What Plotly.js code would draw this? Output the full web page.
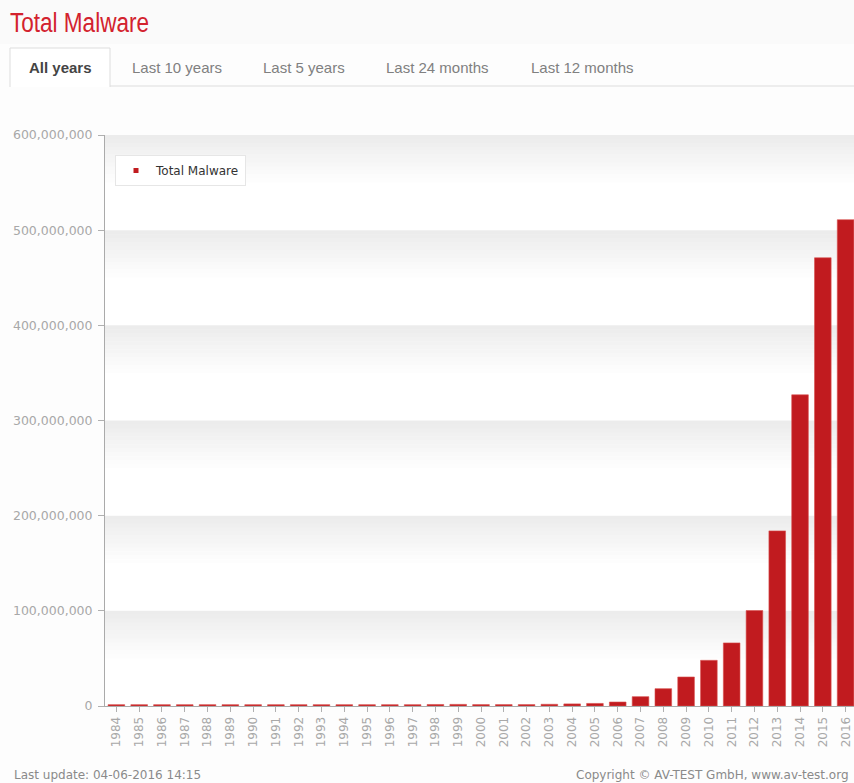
<!DOCTYPE html>
<html>
<head>
<meta charset="utf-8">
<script src="https://cdn.plot.ly/plotly-3.0.1.min.js"></script>
<style>
  html, body { margin: 0; padding: 0; overflow: hidden; background: #fdfdfd; }
  #chart { width: 860px; height: 783px; }
</style>
</head>
<body>
<div id="chart"></div>
<script>
// ---- data ----
const years = ["1984","1985","1986","1987","1988","1989","1990","1991","1992","1993","1994","1995","1996","1997","1998","1999","2000","2001","2002","2003","2004","2005","2006","2007","2008","2009","2010","2011","2012","2013","2014","2015","2016"];
const totalMalware = [1.4e6,1.4e6,1.4e6,1.4e6,1.4e6,1.4e6,1.4e6,1.4e6,1.4e6,1.4e6,1.4e6,1.4e6,1.4e6,1.4e6,1.6e6,1.7e6,1.5e6,1.5e6,1.5e6,1.8e6,2.2e6,2.7e6,4.2e6,9.8e6,18.2e6,30.5e6,48e6,66.3e6,100.3e6,184e6,327e6,471e6,511e6];
const yTickVals = [0,100000000,200000000,300000000,400000000,500000000,600000000];
const seriesName = "Total Malware";
const chartTitle = "Total Malware";
const tabLabels = ["All years","Last 10 years","Last 5 years","Last 24 months","Last 12 months"];
const footerLeft = "Last update: 04-06-2016 14:15";
const footerRight = "Copyright \u00A9 AV-TEST GmbH, www.av-test.org";

// ---- layout geometry helpers ----
const W = 860, H = 783, ML = 105, MR = 3, MT = 135, MB = 77;
const PW = W - ML - MR, PH = H - MT - MB;
const fx = px => (px - ML) / PW;
const fy = py => 1 - (py - MT) / PH;

const red = "#c11b1f";
const font = "DejaVu Sans, Verdana, sans-serif";

// gradient bands below each gridline
const shapes = [];
const steps = 12, bandDepth = 50e6;
for (let k = 1; k < yTickVals.length; k++) {
  const top = yTickVals[k];
  for (let i = 0; i < steps; i++) {
    shapes.push({
      type: "rect", layer: "below", xref: "paper", yref: "y",
      x0: 0, x1: 1,
      y0: top - (i + 1) * bandDepth / steps, y1: top - i * bandDepth / steps,
      fillcolor: "rgba(0,0,0," + (0.075 * (1 - i / steps)).toFixed(4) + ")",
      line: { width: 0 }
    });
  }
}
// header strip
shapes.push({ type: "rect", xref: "paper", yref: "paper", layer: "below",
  x0: fx(0), x1: fx(W), y0: fy(44), y1: fy(0), fillcolor: "#fafafa", line: { width: 0 } });
// tab baseline
shapes.push({ type: "line", xref: "paper", yref: "paper",
  x0: fx(110), x1: fx(854), y0: fy(86), y1: fy(86), line: { color: "#dddddd", width: 1 } });
// active tab box (open at bottom)
shapes.push({ type: "rect", xref: "paper", yref: "paper", layer: "below",
  x0: fx(10), x1: fx(110), y0: fy(87), y1: fy(48), fillcolor: "#ffffff", line: { width: 0 } });
shapes.push({ type: "path", xref: "paper", yref: "paper",
  path: "M" + fx(10) + "," + fy(87) + " L" + fx(10) + "," + fy(48) + " L" + fx(110) + "," + fy(48) + " L" + fx(110) + "," + fy(87),
  line: { color: "#dddddd", width: 1 } });

const tabCenters = [60, 177, 304, 437, 582];
const annotations = [
  { text: chartTitle, xref: "paper", yref: "paper", x: fx(9), y: fy(23), xanchor: "left", yanchor: "middle",
    showarrow: false, font: { family: "Liberation Sans Narrow, Arial Narrow, Liberation Sans, sans-serif", size: 27, color: "#d3222e" } },
  { text: footerLeft, xref: "paper", yref: "paper", x: fx(12), y: fy(775), xanchor: "left", yanchor: "middle",
    showarrow: false, font: { family: font, size: 12, color: "#8a8a8a" } },
  { text: footerRight, xref: "paper", yref: "paper", x: fx(851), y: fy(775), xanchor: "right", yanchor: "middle",
    showarrow: false, font: { family: font, size: 12, color: "#8a8a8a" } }
];
tabLabels.forEach((t, i) => {
  annotations.push({
    text: i === 0 ? "<b>" + t + "</b>" : t,
    xref: "paper", yref: "paper", x: fx(tabCenters[i]), y: fy(68), xanchor: "center", yanchor: "middle",
    showarrow: false,
    font: { family: "Liberation Sans, Arial, sans-serif", size: 15, color: i === 0 ? "#444444" : "#808080" }
  });
});

const traces = [
  {
    type: "bar", x: years, y: totalMalware, name: seriesName, showlegend: false,
    marker: { color: red, line: { color: "#d9504f", width: 0.6 } },
    hoverinfo: "x+y"
  },
  {
    type: "scatter", mode: "markers", x: [null], y: [null], name: seriesName,
    marker: { symbol: "square", size: 5, color: red }, showlegend: true
  }
];

const layout = {
  width: W, height: H,
  margin: { l: ML, r: MR, t: MT, b: MB, pad: 0 },
  paper_bgcolor: "#fdfdfd",
  plot_bgcolor: "#ffffff",
  bargap: 0.27,
  showlegend: true,
  legend: {
    x: fx(115), y: fy(155), xanchor: "left", yanchor: "top",
    bgcolor: "#ffffff", bordercolor: "#e6e6e6", borderwidth: 1,
    font: { family: font, size: 12, color: "#333333" },
    itemwidth: 30
  },
  xaxis: {
    type: "category",
    tickangle: -90,
    tickfont: { family: font, size: 12, color: "#a8a8a8" },
    ticks: "outside", ticklen: 5, tickcolor: "#b0b0b0",
    showline: true, linecolor: "#aaaaaa", linewidth: 1,
    showgrid: false, zeroline: false, fixedrange: true
  },
  yaxis: {
    range: [0, 600000000],
    tickvals: yTickVals,
    tickformat: ",d",
    tickfont: { family: font, size: 12.5, color: "#a8a8a8" },
    ticks: "outside", ticklen: 6, tickcolor: "#b0b0b0",
    ticklabelstandoff: 3,
    showline: true, linecolor: "#aaaaaa", linewidth: 1,
    showgrid: false, zeroline: false, fixedrange: true
  },
  shapes: shapes,
  annotations: annotations
};

Plotly.newPlot("chart", traces, layout, { displayModeBar: false, staticPlot: true }).then(gd => {
  // condense the heading to the narrow look of the original, keeping its left edge
  const t = gd.querySelector('.annotation[data-index="0"] text.annotation-text');
  if (t) {
    t.setAttribute("textLength", "139");
    t.setAttribute("lengthAdjust", "spacingAndGlyphs");
    const svgLeft = gd.getBoundingClientRect().left;
    const r = t.getBoundingClientRect();
    const dx = 10 - (r.left - svgLeft);
    const x0 = parseFloat(t.getAttribute("x") || "0");
    t.setAttribute("x", (x0 + dx).toFixed(1));
  }
});
</script>
</body>
</html>
